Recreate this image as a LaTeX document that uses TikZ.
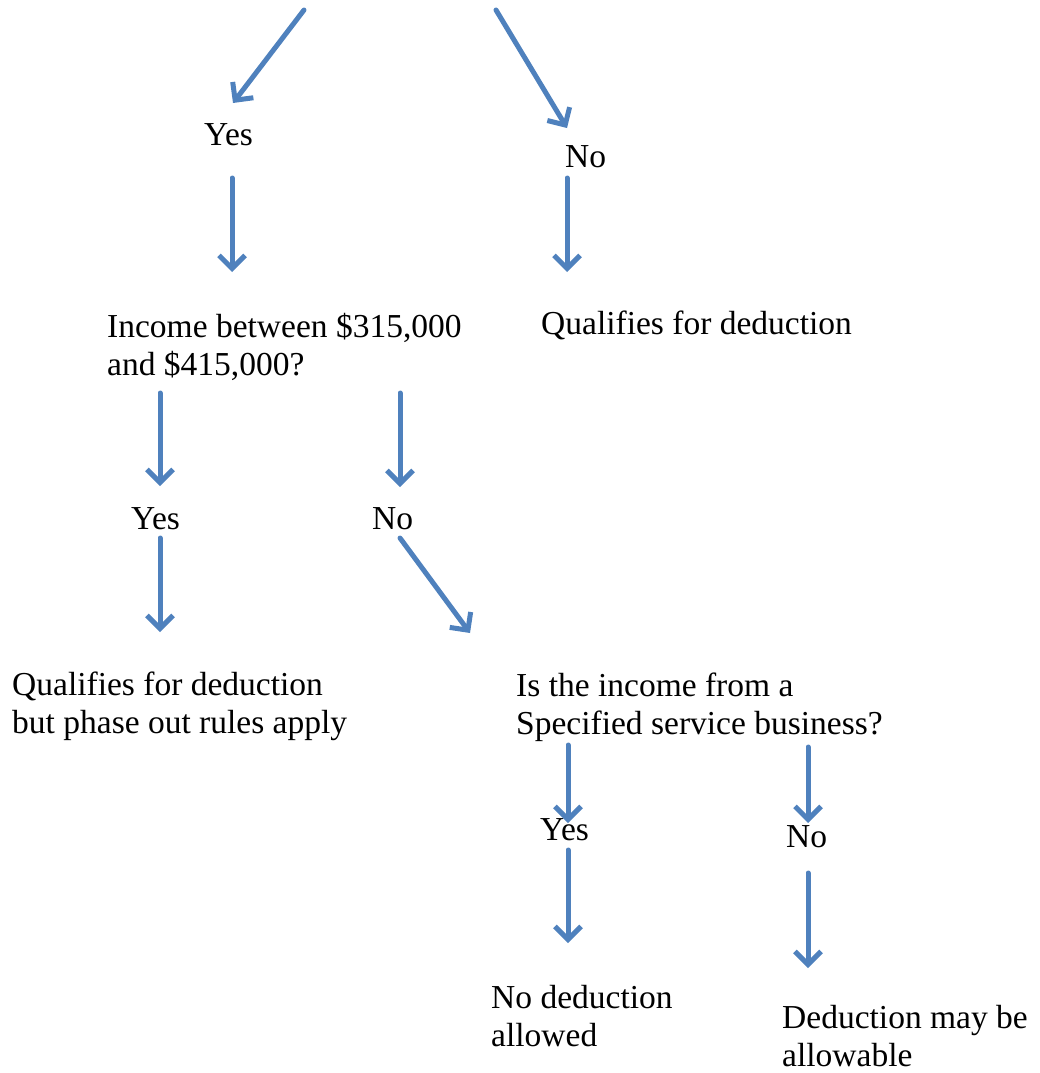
\documentclass[tikz,border=0pt]{standalone}
\usepackage{fontspec}
\setmainfont{Liberation Serif}
\usepackage{tikz}
\usetikzlibrary{arrows.meta, positioning}
\definecolor{arrblue}{RGB}{79,129,189}

\begin{document}
\begin{tikzpicture}[x=1pt, y=-1pt,
        txt/.style={anchor=base west, align=left, inner sep=0pt,
            font=\fontsize{33.5}{38}\selectfont},
        arr/.style={-{Straight Barb[length=13pt, width=26pt]}, line width=5pt,
            draw=arrblue, line cap=round},
    ]
    \useasboundingbox (0,0) rectangle (1040,1073);

    % ---- Answers to the first question ----
    \node[txt] (yes1) at (204,145) {Yes};
    \node[txt] (no1) at (565,167) {No};

    % ---- Second level (multi-line nodes sit on their last line) ----
    \node[txt] (income) at (107,375) {Income between \$315,000\\and \$415,000?};
    \node[txt] (qual1) at (541,334) {Qualifies for deduction};

    \node[txt] (yes2) at (131,529) {Yes};
    \node[txt] (no2) at (372,529) {No};

    \node[txt] (qual2) at (12,733) {Qualifies for deduction\\but phase out rules apply};
    \node[txt] (ssb) at (516,734) {Is the income from a\\Specified service business?};

    % ---- Third level ----
    \node[txt] (yes3) at (540,840) {Yes};
    \node[txt] (no3) at (786,847) {No};

    \node[txt] (nodeduct) at (491,1046) {No deduction\\allowed};
    \node[txt] (maybe) at (782,1066) {Deduction may be\\allowable};

    % ---- Arrow ends ----
    \coordinate (topL) at (304,10);
    \coordinate (topR) at (496,10);
    \coordinate (yes1tip) at (233,103);
    \coordinate (no1tip) at (567,128);

    \coordinate (yes1s) at (232,178);  \coordinate (yes1e) at (232,272);
    \coordinate (no1s) at (567,178);   \coordinate (no1e) at (567,272);
    \coordinate (incL) at (160,393);   \coordinate (incLe) at (160,486);
    \coordinate (incR) at (400,393);   \coordinate (incRe) at (400,487);
    \coordinate (yes2s) at (160,538);  \coordinate (yes2e) at (160,632);
    \coordinate (no2s) at (400,538);   \coordinate (no2e) at (470,633);
    \coordinate (ssbL) at (568,745);   \coordinate (ssbLe) at (568,823);
    \coordinate (ssbR) at (808,747);   \coordinate (ssbRe) at (808,823);
    \coordinate (yes3s) at (568,850);  \coordinate (yes3e) at (568,943);
    \coordinate (no3s) at (808,873);   \coordinate (no3e) at (808,968);

    % ---- Arrows ----
    \draw[arr] (topL) -- (yes1tip);
    \draw[arr] (topR) -- (no1tip);
    \draw[arr] (yes1s) -- (yes1e);
    \draw[arr] (no1s) -- (no1e);
    \draw[arr] (incL) -- (incLe);
    \draw[arr] (incR) -- (incRe);
    \draw[arr] (yes2s) -- (yes2e);
    \draw[arr] (no2s) -- (no2e);
    \draw[arr] (ssbL) -- (ssbLe);
    \draw[arr] (ssbR) -- (ssbRe);
    \draw[arr] (yes3s) -- (yes3e);
    \draw[arr] (no3s) -- (no3e);
\end{tikzpicture}
\end{document}
